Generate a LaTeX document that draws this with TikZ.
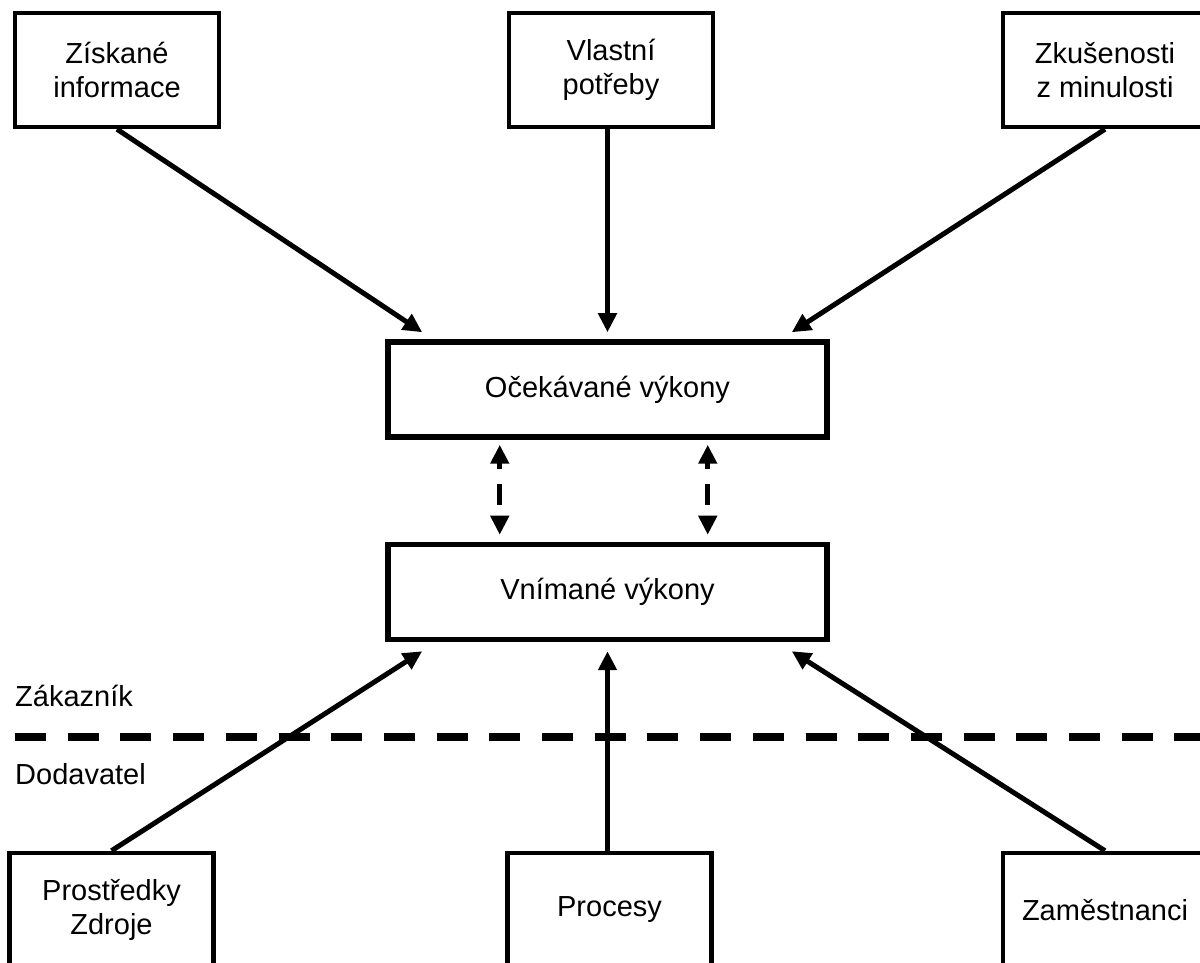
\documentclass[tikz,border=0pt]{standalone}
\usepackage{fontspec}
\setmainfont{Liberation Sans}
\usetikzlibrary{arrows.meta}
\tikzset{
x=1pt, y=1pt, % one unit is one pixel of the picture
>={Triangle[length=19pt,width=18pt]}, % filled arrow heads
txt/.style={font=\fontsize{29}{34}\selectfont}, % text of all boxes
box/.style={txt, draw, line width=4.5pt, minimum width=204pt, minimum height=114pt, align=center}, % outer boxes
bigbox/.style={txt, draw, line width=5.5pt, minimum width=439pt, minimum height=95pt}, % the two middle boxes
flow/.style={->, line width=5pt}, % solid arrows
link/.style={<->, line width=5pt, dash pattern=on 6pt off 15pt on 21pt off 15pt on 30pt}, % dashed arrows
border/.style={line width=8pt, dash pattern=on 31pt off 21.7pt}, % customer / supplier line
}

\begin{document}
\begin{tikzpicture}
\clip (0,0) rectangle (1200,962);
\useasboundingbox (0,0) rectangle (1200,962);
% top row
\node[box] (info) at (117,892) {Získané\\informace};
\node[box] (needs) at (611,892) {Vlastní\\potřeby};
\node[box] (past) at (1105,892) {Zkušenosti\\z minulosti};
% middle
\node[bigbox] (exp) at (607.5,572.5) {Očekávané výkony};
\node[bigbox] (perc) at (607.5,370) {Vnímané výkony};
% bottom row
\node[box] (means) at (111.5,52) {Prostředky\\Zdroje};
\node[box] (proc) at (609.5,52) {Procesy};
\node[box] (staff) at (1105,52) {Zaměstnanci};
% border
\coordinate (bl) at (15,225);
\coordinate (br) at (1200,225);
\draw[border] (bl) -- (br);
\node[txt, anchor=base west, inner sep=0pt] (cust) at (15,255) {Zákazník};
\node[txt, anchor=base west, inner sep=0pt] (supp) at (15,177) {Dodavatel};
% arrows
\draw[flow] (info.south) -- ([xshift=37pt,yshift=7pt]exp.north west);
\draw[flow] ([xshift=-3.5pt]needs.south) -- ([yshift=7pt]exp.north);
\draw[flow] (past.south) -- ([xshift=-38pt,yshift=7pt]exp.north east);
\draw[flow] (means.north) -- ([xshift=37pt,yshift=-9pt]perc.south west);
\draw[flow] ([xshift=-2pt]proc.north) -- ([yshift=-9pt]perc.south);
\draw[flow] (staff.north) -- ([xshift=-38pt,yshift=-9pt]perc.south east);
\draw[link] ([xshift=114.5pt,yshift=-5pt]exp.south west) -- ([xshift=114.5pt,yshift=7pt]perc.north west);
\draw[link] ([xshift=-122pt,yshift=-5pt]exp.south east) -- ([xshift=-122pt,yshift=7pt]perc.north east);
\end{tikzpicture}
\end{document}
